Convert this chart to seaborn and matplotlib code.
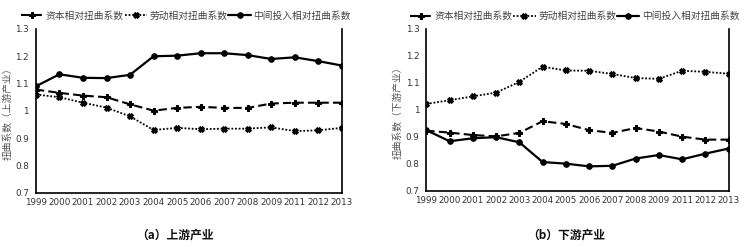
import matplotlib
matplotlib.use("Agg")
import matplotlib.pyplot as plt
import seaborn as sns
import numpy as np
import pandas as pd

sns.set_theme(style="white")
plt.rcParams['font.family'] = ['Noto Sans CJK SC', 'DejaVu Sans']

years = ["1999", "2000", "2001", "2002", "2003", "2004", "2005", "2006",
         "2007", "2008", "2009", "2011", "2012", "2013"]

series_names = ["资本相对扭曲系数", "劳动相对扭曲系数", "中间投入相对扭曲系数"]

up_capital = [1.078, 1.066, 1.056, 1.050, 1.024, 1.001, 1.011, 1.015, 1.011, 1.011, 1.027, 1.030, 1.030, 1.030]
up_labor = [1.060, 1.050, 1.030, 1.012, 0.980, 0.930, 0.938, 0.933, 0.935, 0.935, 0.940, 0.926, 0.929, 0.938]
up_inter = [1.090, 1.134, 1.121, 1.120, 1.132, 1.200, 1.202, 1.211, 1.211, 1.204, 1.190, 1.196, 1.182, 1.166]

down_capital = [0.923, 0.916, 0.907, 0.902, 0.915, 0.958, 0.948, 0.925, 0.915, 0.933, 0.920, 0.901, 0.890, 0.890]
down_labor = [1.022, 1.036, 1.050, 1.064, 1.104, 1.160, 1.146, 1.145, 1.133, 1.118, 1.115, 1.145, 1.141, 1.134]
down_inter = [0.925, 0.884, 0.895, 0.899, 0.880, 0.807, 0.801, 0.791, 0.793, 0.820, 0.833, 0.817, 0.838, 0.857]

yticks = [0.7, 0.8, 0.9, 1.0, 1.1, 1.2, 1.3]
ytick_labels = ["0.7", "0.8", "0.9", "1", "1.1", "1.2", "1.3"]

panels = [
    ("扭曲系数（上游产业）", "（a）上游产业", [up_capital, up_labor, up_inter]),
    ("扭曲系数（下游产业）", "（b）下游产业", [down_capital, down_labor, down_inter]),
]

styles = [
    dict(linestyle=(0, (4, 2)), marker="P", markersize=4, linewidth=1.5),
    dict(linestyle=(0, (1, 1)), marker="X", markersize=4, linewidth=1.3),
    dict(linestyle="-", marker="o", markersize=4, linewidth=1.6),
]

fig = plt.figure(figsize=(7.48, 2.47), dpi=100)
axes_pos = [[0.048, 0.219, 0.409, 0.664], [0.570, 0.227, 0.404, 0.656]]
caption_dx = [-0.019, -0.015]

x = np.arange(len(years))
for (ylabel, caption, data), pos, cdx in zip(panels, axes_pos, caption_dx):
    ax = fig.add_axes(pos)
    for name, vals, st in zip(series_names, data, styles):
        sns.lineplot(x=x, y=vals, ax=ax, color="black", label=name,
                     markeredgecolor="black", markerfacecolor="black", **st)
    ax.set_xlim(0, len(years) - 1)
    ax.set_ylim(0.7, 1.3)
    ax.set_xticks(x)
    ax.set_xticklabels(years, fontsize=6.3, color="#333333", family="DejaVu Sans")
    ax.set_yticks(yticks)
    ax.set_yticklabels(ytick_labels, fontsize=6.3, color="#333333", family="DejaVu Sans")
    ax.tick_params(axis="x", direction="in", length=3, width=1, color="black", pad=4)
    ax.tick_params(axis="y", direction="out", length=3, width=1, color="black", pad=2)
    ax.tick_params(axis="x", which="both", top=False)
    ax.tick_params(axis="y", which="both", right=False)
    for s in ["left", "bottom", "right"]:
        ax.spines[s].set_visible(True)
        ax.spines[s].set_color("black")
        ax.spines[s].set_linewidth(1.2)
    ax.spines["top"].set_visible(False)
    ax.set_ylabel(ylabel, fontsize=7, color="#555555", labelpad=2)
    ax.set_xlabel("")
    ax.grid(False)
    leg = ax.legend(loc="center", bbox_to_anchor=(0.49, 1.08), ncol=3, frameon=False,
                    fontsize=7, handlelength=2.3, handletextpad=0.25, columnspacing=0.1,
                    borderaxespad=0.0, borderpad=0.0)
    for t in leg.get_texts():
        t.set_color("#444444")
    fig.text(pos[0] + pos[2] * 0.5 + cdx, 0.049, caption, ha="center", va="center",
             fontsize=8.5, fontweight="bold", color="#111111")

fig.savefig("out.png", dpi=100, facecolor="white")
